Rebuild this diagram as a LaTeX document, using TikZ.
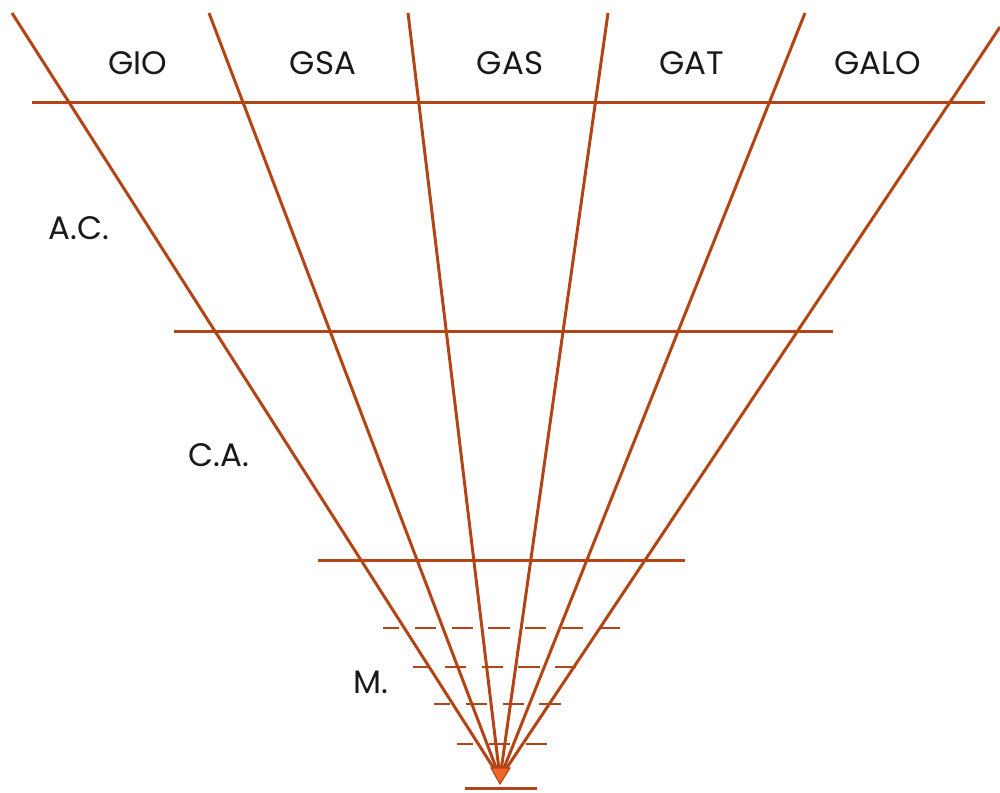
\documentclass[tikz,border=0pt]{standalone}
\usepackage{fontspec}
\setmainfont{Poppins}
\usepackage{tikz}
\usetikzlibrary{positioning}

\definecolor{rust}{RGB}{178,68,22}
\definecolor{flame}{RGB}{240,100,40}

\begin{document}
\begin{tikzpicture}[x=0.02cm, y=-0.02cm,
		ray/.style={rust, line width=1.7pt},
		level/.style={rust, line width=1.7pt},
		sublevel/.style={rust, line width=1.2pt, dash pattern=on 12pt off 9pt, dash phase=3pt},
		lbl/.style={font=\fontsize{18.5}{18.5}\selectfont, text=black!90, inner sep=0pt}]
		\useasboundingbox (0,0) rectangle (1000,792);
		
		% Apex and ray ends
		\coordinate (apex) at (500,778);
		\coordinate (t1) at (12,13);
		\coordinate (t2) at (209,13);
		\coordinate (t3) at (408,13);
		\coordinate (t4) at (608,13);
		\coordinate (t5) at (805,13);
		\coordinate (t6) at (1000,27);
		
		% Rays
		\foreach \i in {1,...,6}
		\draw[ray] (apex) -- (t\i);
		
		% Levels
		\draw[level] (32,102) -- (985,102);
		\draw[level] (174,331) -- (833,331);
		\draw[level] (318,560) -- (685,560);
		
		% Dashed sublevels
		\draw[sublevel] (383,628) -- (625,628);
		\draw[sublevel] (413,667) -- (587,667);
		\draw[sublevel] (434,704) -- (572,704);
		\draw[sublevel] (457,744) -- (554,744);
		
		% Base
		\draw[level] (465,788) -- (537,788);
		\filldraw[fill=flame, draw=rust, line width=0.6pt] (491,768) -- (510,768) -- (500,784) -- cycle;
		
		% Labels
		\node[lbl] (gio) at (138,63) {GIO};
		\node[lbl] (gsa) at (323,63) {GSA};
		\node[lbl] (gas) at (510,63) {GAS};
		\node[lbl] (gat) at (692,63) {GAT};
		\node[lbl] (galo) at (878,63) {GALO};
		\node[lbl] (ac) at (79,228) {A.C.};
		\node[lbl] (ca) at (219,455) {C.A.};
		\node[lbl] (m) at (371,682) {M.};
	\end{tikzpicture}
\end{document}
